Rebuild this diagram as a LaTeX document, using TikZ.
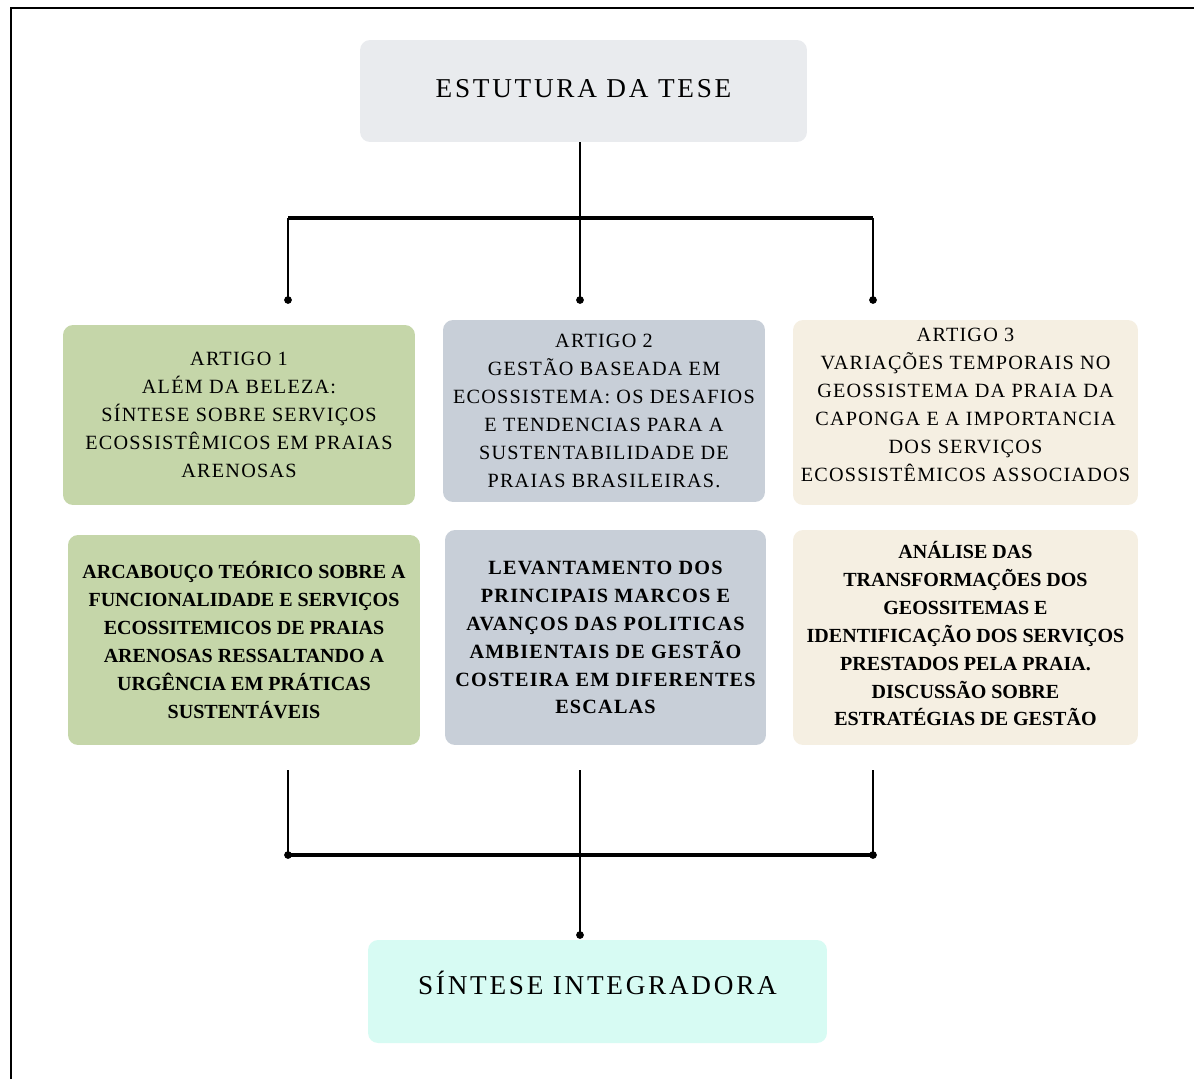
\documentclass[tikz,border=0pt]{standalone}
\usepackage{fontspec}
\setmainfont{Liberation Serif}
\newfontfamily\espacada[LetterSpace=6]{Liberation Serif}
\newfontfamily\titulo[LetterSpace=10]{Liberation Serif}
\definecolor{cinzatopo}{HTML}{E9EBEE}
\definecolor{verde}{HTML}{C5D6A9}
\definecolor{azulcinza}{HTML}{C8CFD8}
\definecolor{bege}{HTML}{F5EFE2}
\definecolor{ciano}{HTML}{D7FBF3}

\begin{document}
\begin{tikzpicture}[x=0.02cm,y=-0.02cm,
	caixa/.style={rounded corners=0.2cm, align=center, inner sep=0pt},
	artigo/.style={caixa, font=\espacada\fontsize{11.5}{15.9}\selectfont},
	detalhe/.style={caixa, font=\espacada\bfseries\fontsize{11.5}{15.9}\selectfont},
	estreito/.style={caixa, font=\bfseries\fontsize{11.4}{15.9}\selectfont},
	grande/.style={caixa, font=\titulo\fontsize{15.5}{18}\selectfont},
	fio/.style={line width=0.8pt},
	barra/.style={line width=2pt}]
					\useasboundingbox (0,0) rectangle (1194,1079);
					% Moldura
					\draw[line width=1.7pt] (11,1079) -- (11,8) -- (1194,8);
					% Caixas
					\node[grande, fill=cinzatopo, minimum width=8.94cm, minimum height=2.04cm, text depth=3.4pt] (topo) at (583.5,91) {ESTUTURA DA TESE};
					\node[artigo, fill=verde, minimum width=7.04cm, minimum height=3.6cm] (art1) at (239,415) {ARTIGO 1\\ALÉM DA BELEZA:\\SÍNTESE SOBRE SERVIÇOS\\ECOSSISTÊMICOS EM PRAIAS\\ARENOSAS};
					\node[artigo, fill=azulcinza, minimum width=6.44cm, minimum height=3.64cm] (art2) at (604,411) {ARTIGO 2\\GESTÃO BASEADA EM\\ECOSSISTEMA: OS DESAFIOS\\E TENDENCIAS PARA A\\SUSTENTABILIDADE DE\\PRAIAS BRASILEIRAS.};
					\node[artigo, fill=bege, minimum width=6.9cm, minimum height=3.7cm, text depth=9pt] (art3) at (965.5,412.5) {ARTIGO 3\\VARIAÇÕES TEMPORAIS NO\\GEOSSISTEMA DA PRAIA DA\\CAPONGA E A IMPORTANCIA\\DOS SERVIÇOS\\ECOSSISTÊMICOS ASSOCIADOS};
					\node[estreito, fill=verde, minimum width=7.04cm, minimum height=4.2cm] (det1) at (244,640) {ARCABOUÇO TEÓRICO SOBRE A\\FUNCIONALIDADE E SERVIÇOS\\ECOSSITEMICOS DE PRAIAS\\ARENOSAS RESSALTANDO A\\URGÊNCIA EM PRÁTICAS\\SUSTENTÁVEIS};
					\node[detalhe, fill=azulcinza, minimum width=6.42cm, minimum height=4.3cm] (det2) at (605.5,637.5) {LEVANTAMENTO DOS\\PRINCIPAIS MARCOS E\\AVANÇOS DAS POLITICAS\\AMBIENTAIS DE GESTÃO\\COSTEIRA EM DIFERENTES\\ESCALAS};
					\node[estreito, fill=bege, minimum width=6.9cm, minimum height=4.3cm, text depth=4.5pt] (det3) at (965.5,637.5) {ANÁLISE DAS\\TRANSFORMAÇÕES DOS\\GEOSSITEMAS E\\IDENTIFICAÇÃO DOS SERVIÇOS\\PRESTADOS PELA PRAIA.\\DISCUSSÃO SOBRE\\ESTRATÉGIAS DE GESTÃO};
					\node[grande, fill=ciano, minimum width=9.18cm, minimum height=2.06cm, text depth=10pt] (fim) at (597.5,991.5) {SÍNTESE INTEGRADORA};
					% Ligacoes de cima
					\foreach \x/\n in {288/1,580/2,873/3} {
						\coordinate (r\n) at (\x,218);
						\coordinate (p\n) at (\x,300);
						\coordinate (s\n) at (\x,770);
						\coordinate (q\n) at (\x,855);}
					\coordinate (p4) at (580,935);
					\draw[fio] (topo.south -| r2) -- (p2);
					\draw[barra] (r1) -- (r3);
					\draw[fio] (r1) -- (p1);
					\draw[fio] (r3) -- (p3);
					\foreach \n in {1,2,3} \fill (p\n) circle (2.2pt);
					% Ligacoes de baixo
					\foreach \n in {1,2,3} \draw[fio] (s\n) -- (q\n);
					\draw[barra] (q1) -- (q3);
					\draw[fio] (q2) -- (p4);
					\fill (q1) circle (2.2pt);
					\fill (q3) circle (2.2pt);
					\fill (p4) circle (2.2pt);
				\end{tikzpicture}
\end{document}
